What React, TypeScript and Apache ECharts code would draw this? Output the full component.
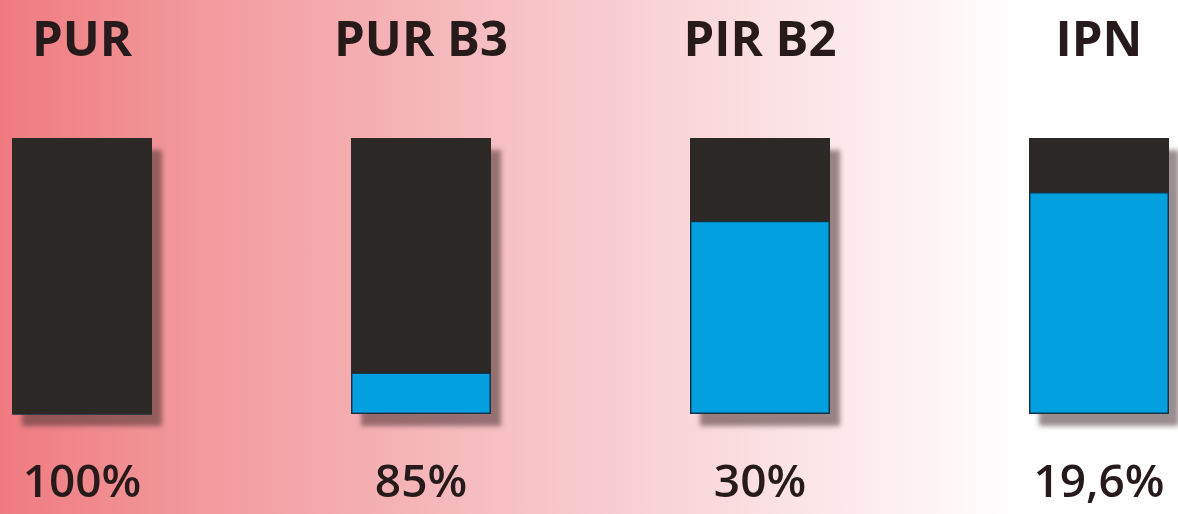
import React, { useEffect, useRef } from "react";
import * as echarts from "echarts";

// Foam types and the share of the reference value (PUR = 100 %)
const categories = ["PUR", "PUR B3", "PIR B2", "IPN"];
const shareValues = [100, 85, 30, 19.6];

const FULL = 100;
const blackColor = "#2b2826";
const blueColor = "#03a0e0";
const textColor = "#261a1b";

const formatShare = (v: number) => String(v).replace(".", ",") + "%";

export default function App() {
  const ref = useRef<HTMLDivElement>(null);

  useEffect(() => {
    if (!ref.current) return;
    const chart = echarts.init(ref.current, undefined, { renderer: "svg" });

    const remainder = shareValues.map((v) => +(FULL - v).toFixed(1));
    const totals = shareValues.map((v, i) => v + remainder[i]);

    chart.setOption({
      animation: false,
      graphic: [
        {
          type: "rect",
          z: -10,
          silent: true,
          shape: { x: 0, y: 0, width: 1178, height: 514 },
          style: {
            fill: new echarts.graphic.LinearGradient(0, 0, 1, 0, [
              { offset: 0, color: "#ef7b81" },
              { offset: 0.17, color: "#f29a9c" },
              { offset: 0.46, color: "#f7c5c8" },
              { offset: 0.75, color: "#fdeef0" },
              { offset: 0.83, color: "#fffafb" },
              { offset: 0.88, color: "#ffffff" },
              { offset: 1, color: "#ffffff" },
            ]),
          },
        },
      ],
      grid: { left: 82, right: 79, top: 138, bottom: 100 },
      xAxis: [
        {
          type: "category",
          position: "top",
          boundaryGap: false,
          data: categories,
          axisLine: { show: false },
          axisTick: { show: false },
          axisLabel: {
            margin: 101,
            verticalAlign: "middle",
            color: textColor,
            fontFamily: "Open Sans",
            fontWeight: "bold",
            fontSize: 49,
            lineHeight: 52,
          },
        },
        {
          type: "category",
          position: "bottom",
          boundaryGap: false,
          data: shareValues.map(formatShare),
          axisLine: { show: false },
          axisTick: { show: false },
          axisLabel: {
            margin: 65,
            verticalAlign: "middle",
            color: textColor,
            fontFamily: "Open Sans",
            fontWeight: 600,
            fontSize: 46,
            lineHeight: 46,
          },
        },
      ],
      yAxis: {
        type: "value",
        min: 0,
        max: FULL,
        show: false,
        splitLine: { show: false },
      },
      series: [
        {
          // full-height backing bar that casts the drop shadow
          type: "bar",
          name: "shadow",
          xAxisIndex: 0,
          data: totals,
          barWidth: 140,
          barGap: "-100%",
          z: 1,
          itemStyle: {
            color: blackColor,
            shadowColor: "rgba(70, 45, 45, 0.55)",
            shadowBlur: 5,
            shadowOffsetX: 10,
            shadowOffsetY: 12,
          },
        },
        {
          type: "bar",
          name: "remainder",
          stack: "total",
          xAxisIndex: 0,
          data: remainder,
          barWidth: 140,
          barGap: "-100%",
          z: 3,
          itemStyle: {
            color: blueColor,
            borderColor: "#163448",
            borderWidth: 1.5,
          },
        },
        {
          type: "bar",
          name: "share",
          stack: "total",
          xAxisIndex: 0,
          data: shareValues,
          barWidth: 140,
          barGap: "-100%",
          z: 3,
          itemStyle: { color: blackColor },
        },
      ],
    });

    return () => chart.dispose();
  }, []);

  return (
    <div
      ref={ref}
      style={{ position: "fixed", left: 0, top: 0, width: 1178, height: 514 }}
    />
  );
}
